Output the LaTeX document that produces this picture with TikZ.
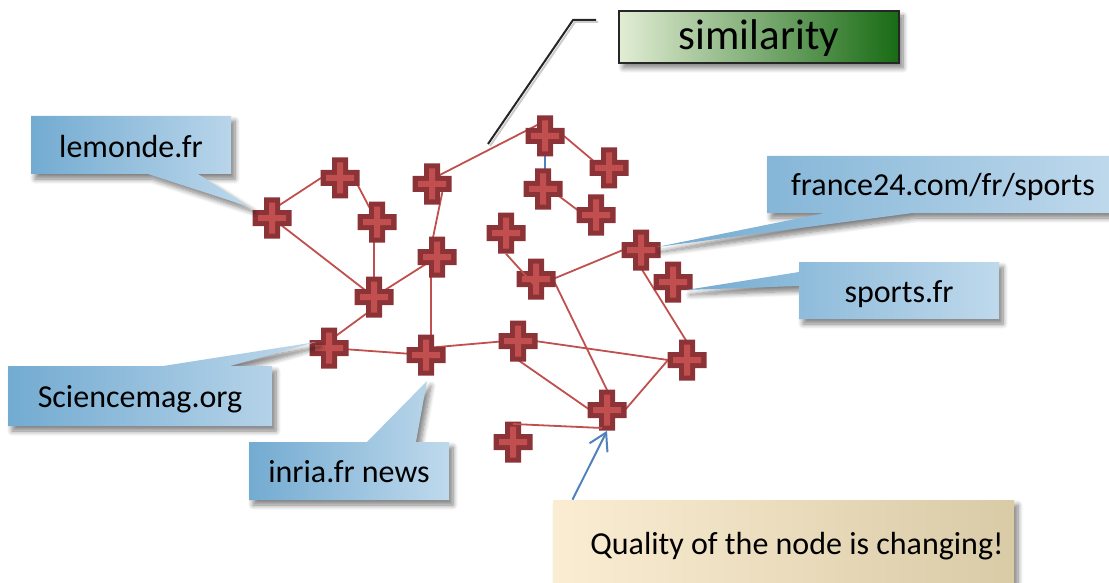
\documentclass[tikz,border=0pt]{standalone}
\usepackage{fontspec}
\setmainfont{Carlito}
\usetikzlibrary{arrows.meta,shadows.blur}
\definecolor{sitedark}{HTML}{8C3337}
\definecolor{sitelight}{HTML}{C24F4F}
\definecolor{linkred}{HTML}{C0504D}
\definecolor{linkblue}{HTML}{4F81BD}
\definecolor{tagleft}{HTML}{73ABD1}
\definecolor{tagright}{HTML}{BFD9EC}
\definecolor{noteleft}{HTML}{FBEDD3}
\definecolor{notemid}{HTML}{F6EBD6}
\definecolor{noteright}{HTML}{D9CBA6}
\definecolor{simleft}{HTML}{E2EDD4}
\definecolor{simmid}{HTML}{9BB76C}
\definecolor{simright}{HTML}{186B14}

\begin{document}
\begin{tikzpicture}[x=1pt,y=-1pt,semithick]
  \tikzstyle{site}=[rectangle,inner sep=0pt,minimum width=39pt,minimum height=41pt,
    path picture={\begin{scope}[shift={(path picture bounding box.center)}]
      \fill[sitedark] (-19.5,-8) rectangle (19.5,8) (-8,-20.5) rectangle (8,20.5);
      \fill[sitelight] (-14,-3) rectangle (14,3) (-3,-15.5) rectangle (3,15.5);
    \end{scope}}]
  \tikzstyle{link}=[draw=linkred,line width=1.8pt]
  \tikzstyle{softshadow}=[blur shadow={shadow xshift=4pt,shadow yshift=-5pt,shadow blur radius=5pt,shadow blur steps=8,shadow opacity=50}]
  \tikzstyle{tag}=[left color=tagleft,right color=tagright,softshadow]
  \tikzstyle{tagtext}=[inner sep=0pt,font=\fontsize{32}{38}\selectfont]

  \useasboundingbox (0,0) rectangle (1109,583);

  % positions first, so that the links lie under the sites
  \foreach \name/\pos in {A/{272,218},B/{340,178},C/{377,222},D/{432,184},E/{437,257},
                          F/{374,297},G/{545,136},H/{609,168},I/{543,189},J/{596,215},
                          K/{506,233},L/{536,279},M/{641,250},N/{673,282},O/{687,360},
                          P/{607,410},Q/{513,442},R/{518,341},S/{426,355},T/{329,348}}
    \coordinate (\name) at (\pos);

  \path[link] ([yshift=8pt]A) edge ([xshift=-19pt]B)
              (A) edge (F)
              ([xshift=14pt]B) edge (C)
              ([xshift=-3pt]C) edge (F)
              (F) edge (E)
              ([yshift=-11pt]F) edge ([yshift=7pt]T)
              ([xshift=-8pt]E) edge ([xshift=12pt]D)
              ([xshift=-6pt]E) edge ([xshift=5pt]S)
              ([yshift=5pt]D) edge ([yshift=15pt]G)
              ([xshift=19pt]G) edge ([yshift=-6pt]H)
              ([yshift=5pt]I) edge ([yshift=-9pt]J)
              ([xshift=17pt]L) edge ([xshift=-18pt]M)
              ([xshift=17pt]L) edge ([yshift=20pt]P)
              ([yshift=-18pt]M) edge ([yshift=18pt]O)
              (T) edge (S)
              ([yshift=7pt]S) edge ([yshift=1pt]R)
              ([xshift=17pt]R) edge ([xshift=-19pt]O)
              ([yshift=-19pt]R) edge ([xshift=-17pt]P)
              ([xshift=18pt]P) edge ([xshift=-19pt]O);
  \draw[draw=linkblue,line width=2pt] (G) -- ([xshift=2pt]I);

  \foreach \name in {A,...,T}
    \node[site] (\name) at (\name) {};
  \draw[link] (K.south) -- ([yshift=-8pt]L.center);
  \draw[link] ([yshift=18pt]Q.center) -- ([xshift=-5pt,yshift=-18pt]P.center);

  % labels of the sites
  \shade[tag] (31,116) -- (231,116) -- (231,174) -- (198,174) -- (250,207) -- (148,174) -- (31,174) -- cycle;
  \node[tagtext] (lemonde) at (131,147) {lemonde.fr};
  \shade[tag] (767,156) -- (1115,156) -- (1115,213) -- (913,213) -- (657,247) -- (825,213) -- (767,213) -- cycle;
  \node[tagtext] (france) at (943,187) {france24.com/fr/sports};
  \shade[tag] (799,262) -- (999,262) -- (999,319) -- (799,319) -- (799,286) -- (686,290) -- (799,272) -- cycle;
  \node[tagtext] (sports) at (899,294) {sports.fr};
  \shade[tag] (8,366) -- (163,366) -- (316,342) -- (230,366) -- (272,366) -- (272,426) -- (8,426) -- cycle;
  \node[tagtext] (science) at (140,399) {Sciencemag.org};
  \shade[tag] (249,442) -- (367,442) -- (427,381) -- (416,442) -- (449,442) -- (449,500) -- (249,500) -- cycle;
  \node[tagtext] (inria) at (349,472) {inria.fr news};

  % the two remarks
  \coordinate (simstart) at (488,144);
  \coordinate (simbend) at (573,20);
  \coordinate (simend) at (596,20);
  \draw[black!20,line width=2pt] ([shift={(2,2)}]simstart) -- ([shift={(2,2)}]simbend) -- ([shift={(2,2)}]simend);
  \draw[black!85,line width=2pt] (simstart) -- (simbend) -- (simend);
  \node[draw=black!85,line width=1.5pt,left color=simleft,middle color=simmid,right color=simright,
        minimum width=280pt,minimum height=52pt,inner sep=0pt,text height=28pt,text depth=2pt,softshadow,font=\fontsize{43}{50}\selectfont] (similarity) at (759,37) {similarity};
  \node[left color=noteleft,middle color=notemid,right color=noteright,minimum width=461pt,minimum height=90pt,softshadow] (quality) at (783.5,545) {};
  \node[tagtext] (qualitytext) at (797,546) {Quality of the node is changing!};
  \draw[draw=linkblue,line width=2pt,-{Straight Barb[length=17pt,width=20pt]}] ([xshift=-211pt]quality.north) -- (P.south);
\end{tikzpicture}
\end{document}
